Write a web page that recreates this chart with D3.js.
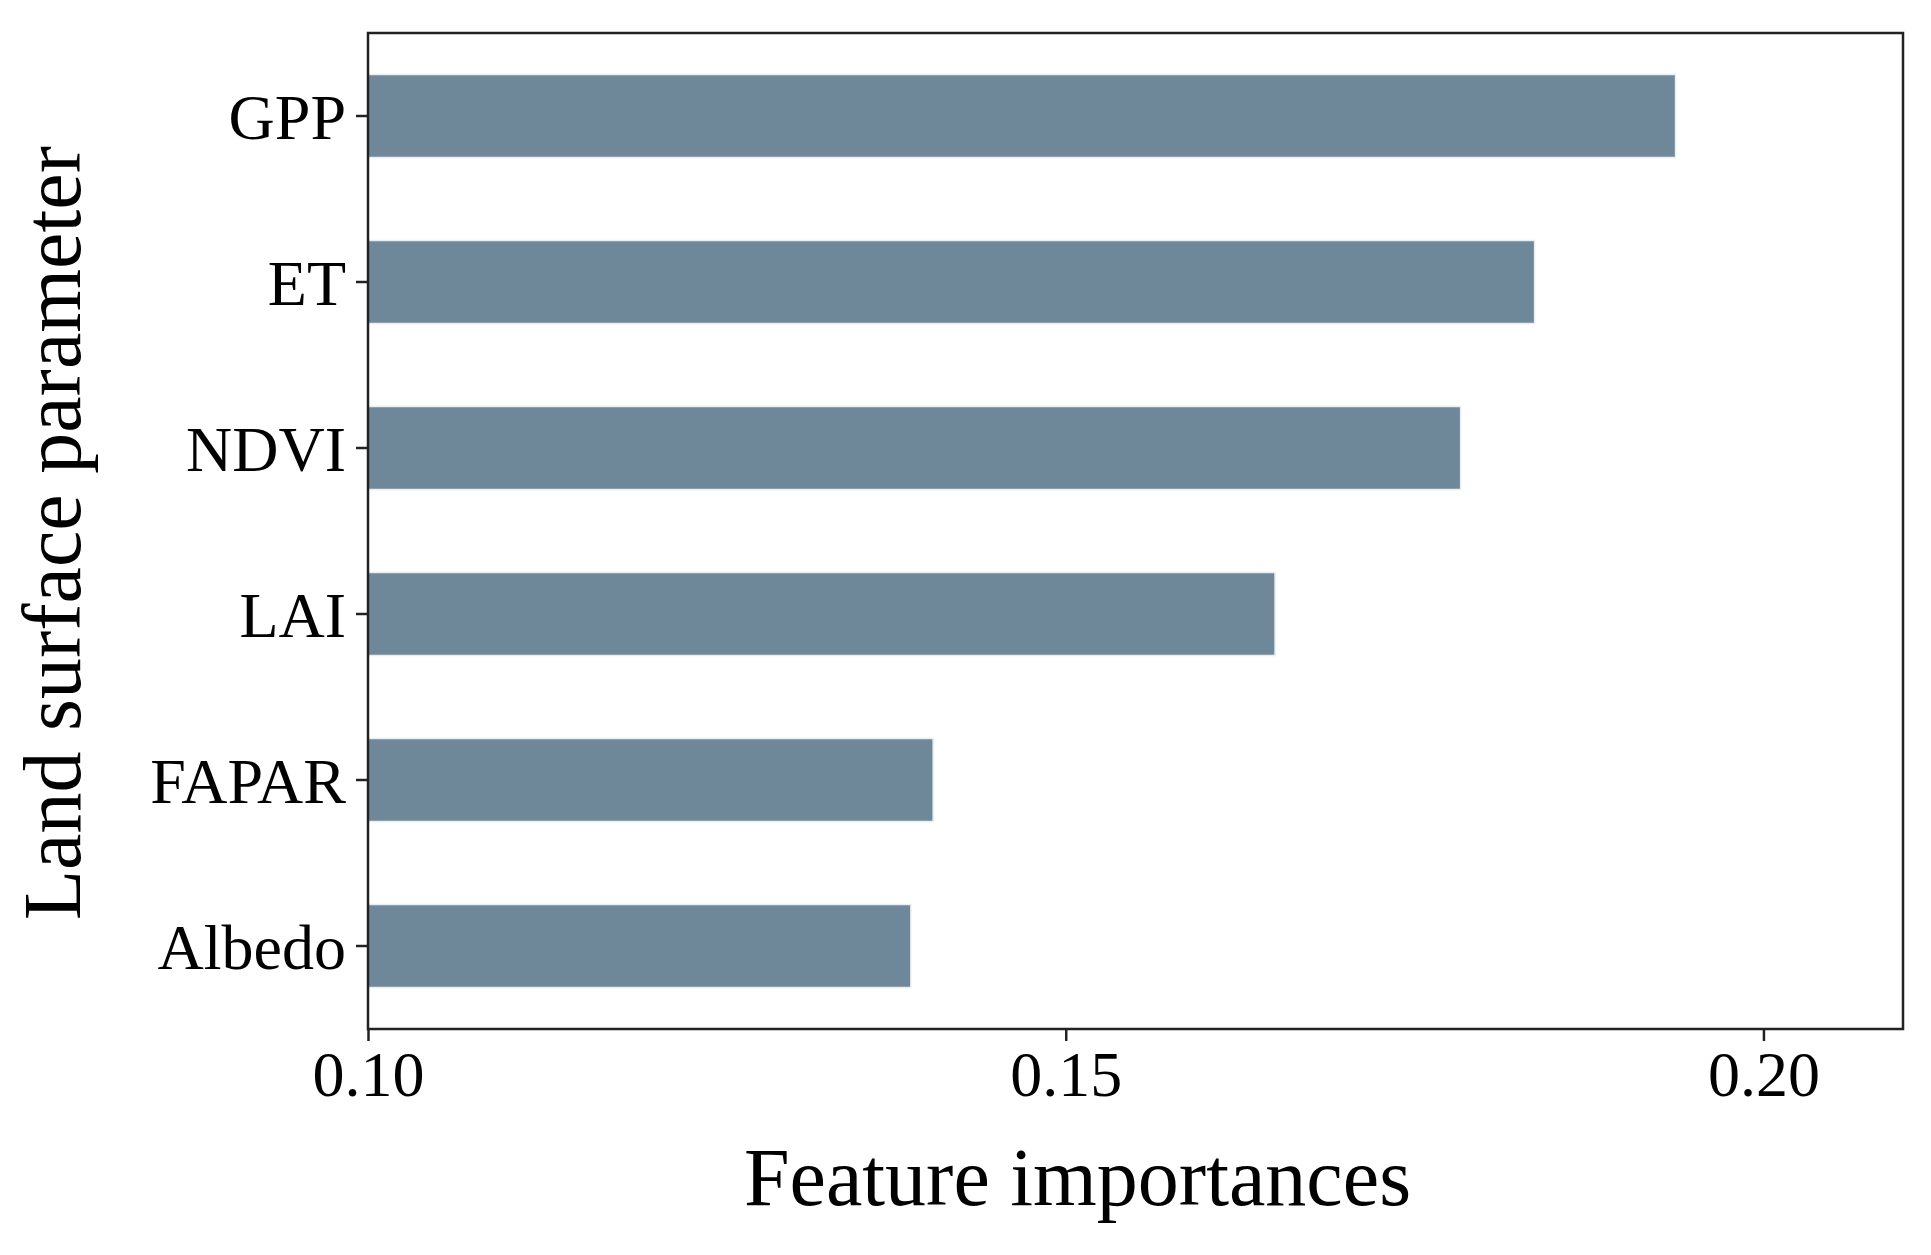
<!DOCTYPE html>
<html>
<head>
<meta charset="utf-8">
<script src="https://d3js.org/d3.v7.min.js"></script>
<style>
  body { margin: 0; background: #fff; }
  .axis text { font-family: "Liberation Serif", serif; font-size: 64px; fill: #000; }
  .axis path, .axis line { stroke: #222; stroke-width: 2.5; }
</style>
</head>
<body>
<script>
var categories = ["GPP", "ET", "NDVI", "LAI", "FAPAR", "Albedo"]
var importances = [0.1937, 0.1836, 0.1783, 0.1650, 0.1405, 0.1389]
var xTicks = [0.10, 0.15, 0.20]

var w = 1931, h = 1255
var m = {left: 368, right: 28, top: 33, bottom: 226}

var svg = d3.select("body").append("svg").attr("width", w).attr("height", h)

var x = d3.scaleLinear().domain([0.10, 0.210]).range([m.left, w - m.right])
var y = d3.scaleBand().domain(categories).range([m.top, h - m.bottom]).paddingInner(0.5).paddingOuter(0.25)

svg.append("g").selectAll("rect").data(categories).join("rect")
    .attr("x", x(0.10))
    .attr("y", function(d) { return y(d) })
    .attr("width", function(d, i) { return x(importances[i]) - x(0.10) })
    .attr("height", y.bandwidth())
    .attr("fill", "#6f8899")
    .attr("stroke", "#e8edf0").attr("stroke-width", 1.5)

svg.append("rect").attr("x", m.left).attr("y", m.top)
    .attr("width", w - m.right - m.left).attr("height", h - m.bottom - m.top)
    .attr("fill", "none").attr("stroke", "#222").attr("stroke-width", 2.5)

svg.append("g").attr("class", "axis")
    .attr("transform", "translate(0," + (h - m.bottom) + ")")
    .call(d3.axisBottom(x).tickValues(xTicks).tickFormat(d3.format(".2f")).tickSize(12).tickPadding(10))
    .call(function(g) { g.select(".domain").remove() })

svg.append("g").attr("class", "axis")
    .attr("transform", "translate(" + m.left + ",0)")
    .call(d3.axisLeft(y).tickSize(12).tickPadding(10))
    .call(function(g) { g.select(".domain").remove() })
    .selectAll("text").attr("dy", "0.36em")

svg.append("text").attr("x", (m.left + w - m.right) / 2 - 58).attr("y", 1205)
    .attr("text-anchor", "middle").attr("font-family", "Liberation Serif, serif")
    .attr("font-size", 82).text("Feature importances")

svg.append("text").attr("transform", "translate(80," + ((m.top + h - m.bottom) / 2 + 2) + ") rotate(-90)")
    .attr("text-anchor", "middle").attr("font-family", "Liberation Serif, serif")
    .attr("font-size", 82).text("Land surface parameter")
</script>
</body>
</html>
